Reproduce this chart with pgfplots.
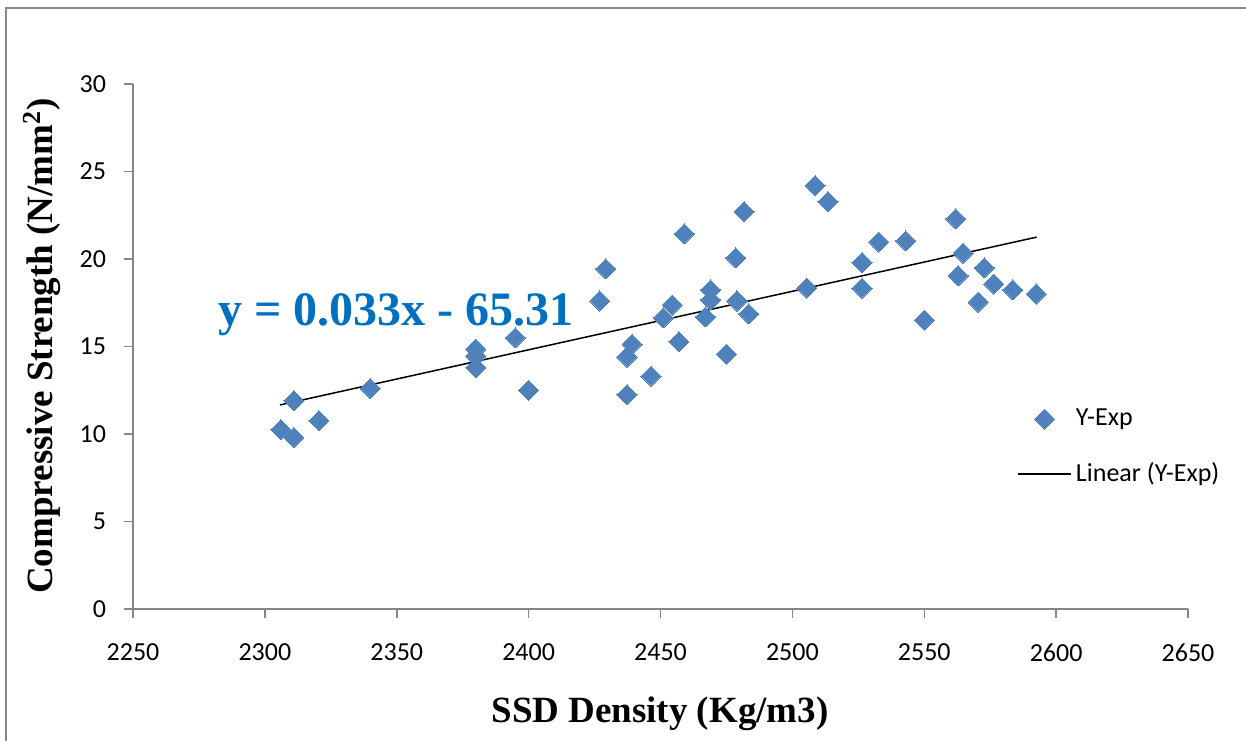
\documentclass[border=0pt]{standalone}
\usepackage{fontspec}
\setmainfont{Liberation Serif}
\newfontfamily\calib{Carlito}
\usepackage{pgfplots}
\usepackage{pgfplotstable}
\pgfplotsset{compat=1.18}
\definecolor{mkblue}{HTML}{4F81BD}
\definecolor{eqblue}{HTML}{0070C0}
\definecolor{axgray}{HTML}{868686}
\pgfplotsset{
  mklegend/.style={legend image code/.code={\draw[mark repeat=2,mark phase=2,##1] plot coordinates {(0pt,0pt)(13.25pt,0pt)(26.5pt,0pt)};}},
  lnlegend/.style={legend image code/.code={\draw[##1] (0pt,0pt) -- (26.5pt,0pt);}},
}
\pgfplotstableread{
x y
2306 10.25
2311 11.9
2311 9.8
2320.5 10.75
2340 12.6
2380 14.85
2380 14.45
2380 13.8
2395 15.5
2400 12.5
2427 17.6
2429.3 19.43
2437.3 14.4
2437.3 12.23
2439.2 15.14
2446.4 13.31
2451 16.63
2454.4 17.37
2457 15.26
2459 21.43
2467 16.69
2469 18.23
2469 17.66
2475 14.57
2479 17.6
2478.6 20.06
2481.7 22.7
2483.5 16.86
2505.5 18.34
2508.6 24.2
2513.5 23.26
2526.4 19.8
2526.4 18.34
2532.8 20.97
2543 21.03
2550 16.51
2562 22.29
2562.8 19.03
2564.7 20.34
2570.4 17.54
2572.7 19.49
2576.4 18.57
2583.6 18.23
2592.4 18.0
}\datatable
\begin{document}
\begin{tikzpicture}
\useasboundingbox (-66.5pt,-65.5pt) rectangle (556.5pt,304.5pt);
\draw[axgray, line width=1pt] (-63.5pt,-70pt) -- (-63.5pt,300.5pt) -- (560pt,300.5pt);
\begin{axis}[
  at={(0,0)}, anchor=south west,
  scale only axis, width=527.5pt, height=262.5pt,
  xmin=2250, xmax=2650, ymin=0, ymax=30,
  xtick={2250,2300,...,2650}, ytick={0,5,...,30},
  axis x line*=bottom, axis y line*=left,
  axis line style={axgray, line width=0.75pt},
  tick style={axgray, line width=0.75pt},
  tick align=outside, major tick length=4.5pt,
  ticklabel style={font=\calib\fontsize{13}{15}\selectfont, text=black},
  xticklabel style={yshift=-9.5pt},
  yticklabel style={xshift=-5.5pt},
  /pgf/number format/assume math mode=true,
  /pgf/number format/1000 sep={},
  clip=false,
  legend cell align=left,
  legend style={draw=none, fill=none, at={(axis description cs:0.838,0.389)}, anchor=north west,
    font=\calib\fontsize{13}{15}\selectfont, row sep=13pt, inner sep=0pt},
]
\addplot[only marks, mark=square*, mark size=3.54pt,
  mark options={rotate=45, fill=mkblue, draw=mkblue, line width=0pt}, mklegend]
  table[x=x,y=y]{\datatable};
\addlegendentry{Y-Exp}
\addplot[black, line width=0.75pt, no marks, lnlegend]
  coordinates {(2305.7,11.66) (2592.6,21.25)};
\addlegendentry{Linear (Y-Exp)}
\end{axis}
\node[rotate=90, anchor=base, font=\bfseries\fontsize{18.5}{20}\selectfont] at (-40pt,131.5pt) {Compressive Strength (N/mm\textsuperscript{2})};
\node[anchor=base, font=\bfseries\fontsize{18.5}{20}\selectfont] at (263.5pt,-56.5pt) {SSD Density (Kg/m3)};
\node[anchor=base west, inner sep=0pt, text=eqblue, font=\bfseries\fontsize{24}{26}\selectfont] at (42.5pt,142pt) {y = 0.033x - 65.31};
\end{tikzpicture}
\end{document}
